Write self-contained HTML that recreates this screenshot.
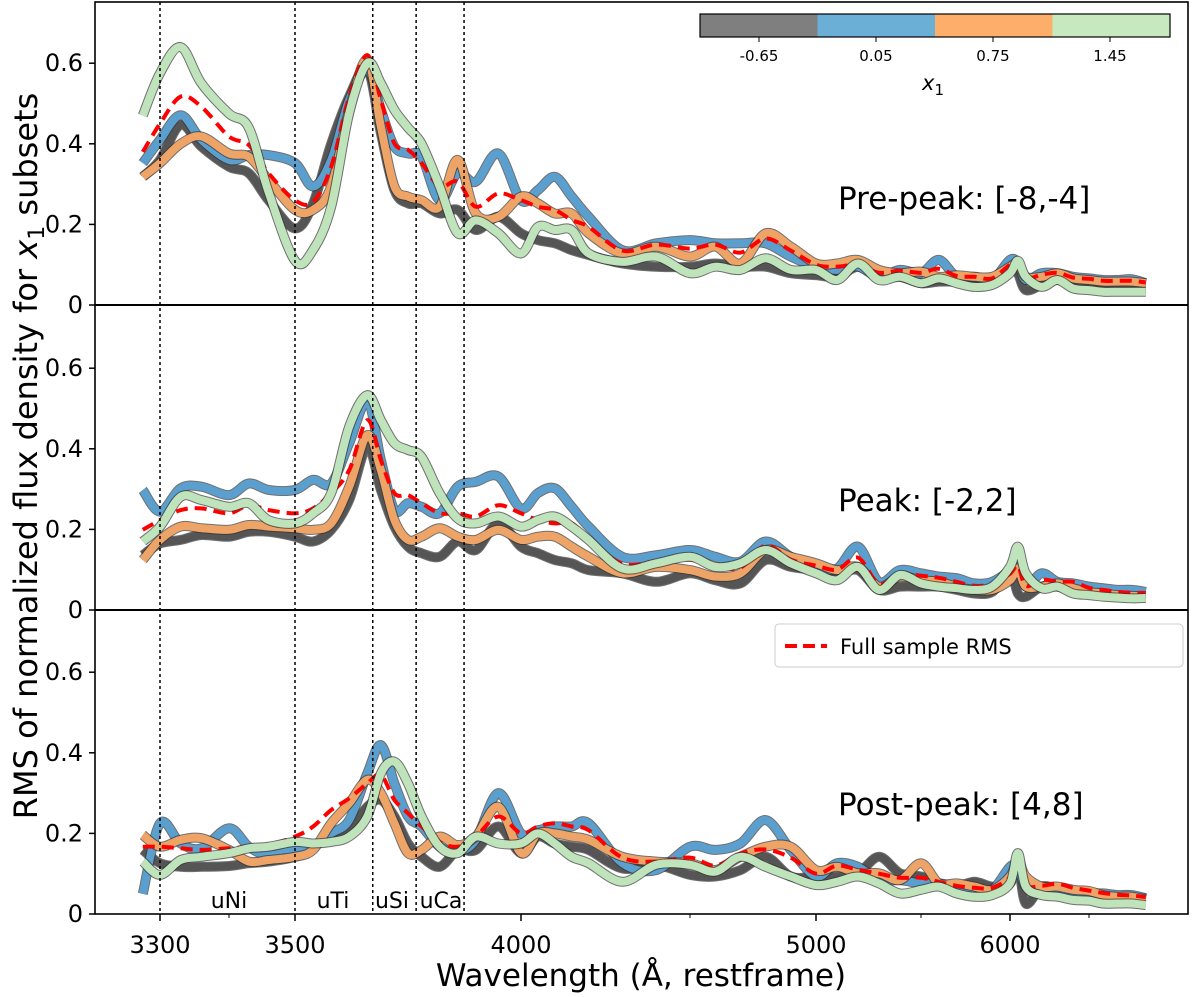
<!DOCTYPE html>
<html><head><meta charset="utf-8"><style>
html,body{margin:0;padding:0;background:#fff;}
svg{display:block;font-family:"DejaVu Sans","Liberation Sans",sans-serif;}
</style></head><body>
<svg id="chart" width="1200" height="997" viewBox="0 0 1200 997" xmlns="http://www.w3.org/2000/svg">
<g id="lines"></g>
<g id="axes"></g>
<g>
  <rect x="700" y="14" width="117.5" height="23" fill="#7f7f7f"/>
  <rect x="817.5" y="14" width="117.5" height="23" fill="#6baed6"/>
  <rect x="935" y="14" width="117.5" height="23" fill="#fdae6b"/>
  <rect x="1052.5" y="14" width="117.5" height="23" fill="#c7e9c0"/>
  <rect x="700" y="14" width="470" height="23" fill="none" stroke="#000" stroke-width="1.2"/>
  <g stroke="#000" stroke-width="1"><line x1="759" y1="37" x2="759" y2="42"/><line x1="876" y1="37" x2="876" y2="42"/><line x1="993" y1="37" x2="993" y2="42"/><line x1="1110" y1="37" x2="1110" y2="42"/></g>
  <g font-size="15" text-anchor="middle" fill="#000">
    <text x="759" y="61">-0.65</text>
    <text x="876" y="61">0.05</text>
    <text x="993" y="61">0.75</text>
    <text x="1110" y="61">1.45</text>
  </g>
  <text x="922" y="90" font-size="21" font-style="italic">x<tspan font-size="15" dy="5" font-style="normal">1</tspan></text>
</g>
<g>
  <rect x="775" y="624" width="408" height="43" rx="4" fill="#fff" stroke="#ccc" stroke-width="1"/>
  <line x1="785" y1="646" x2="827" y2="646" stroke="#ff0000" stroke-width="4" stroke-dasharray="12,6"/>
  <text x="840" y="654" font-size="21">Full sample RMS</text>
</g>
<g font-size="31" fill="#000">
  <text x="838" y="209">Pre-peak: [-8,-4]</text>
  <text x="838" y="511">Peak: [-2,2]</text>
  <text x="838" y="815">Post-peak: [4,8]</text>
</g>
<g font-size="22" text-anchor="middle" fill="#000">
  <text x="229" y="908">uNi</text>
  <text x="333" y="908">uTi</text>
  <text x="392" y="908">uSi</text>
  <text x="441" y="908">uCa</text>
</g>
<text x="641" y="986" font-size="31" text-anchor="middle">Wavelength (Å, restframe)</text>
<text transform="translate(37,456) rotate(-90)" font-size="32" text-anchor="middle">RMS of normalized flux density for <tspan font-style="italic">x</tspan><tspan font-size="22" dy="7">1</tspan><tspan dy="-7"> subsets</tspan></text>
</svg>
<script>
const grid = [3275,3300,3330,3360,3400,3430,3460,3500,3540,3580,3620,3660,3690,3720,3750,3780,3820,3860,3900,3950,4000,4050,4100,4150,4200,4300,4400,4500,4600,4700,4800,4900,5000,5100,5200,5300,5400,5500,5600,5700,5800,5900,6000,6050,6100,6200,6300,6400,6500,6600,6700,6800,6900];
const xTickValues = [3300,3500,4000,5000,6000];
const xTickLabels = ["3300","3500","4000","5000","6000"];
const xMinorTicks = [3400,4500,5500,6500];
const yTickValues = [0,0.2,0.4,0.6];
const yTickLabels = ["0","0.2","0.4","0.6"];
const lineMarkers = [3300,3500,3672,3768,3874];
const seriesNames = ["x1 -0.65","x1 0.05","x1 0.75","full sample","x1 1.45"];

const grey1 = [0.318,0.36,0.447,0.393,0.343,0.327,0.26,0.19,0.252,0.40,0.517,0.587,0.426,0.285,0.252,0.252,0.227,0.236,0.186,0.219,0.178,0.161,0.153,0.136,0.124,0.103,0.095,0.095,0.103,0.095,0.095,0.079,0.074,0.07,0.095,0.07,0.07,0.054,0.058,0.058,0.054,0.058,0.103,0.079,0.037,0.05,0.062,0.05,0.045,0.045,0.042,0.04,0.04];
const blue1 = [0.352,0.41,0.471,0.41,0.36,0.372,0.372,0.352,0.294,0.36,0.509,0.583,0.484,0.393,0.376,0.368,0.26,0.327,0.306,0.376,0.26,0.285,0.318,0.269,0.219,0.136,0.153,0.161,0.153,0.153,0.153,0.12,0.095,0.087,0.095,0.07,0.087,0.079,0.112,0.07,0.07,0.062,0.112,0.103,0.062,0.079,0.079,0.07,0.066,0.062,0.062,0.064,0.054];
const orange1 = [0.318,0.352,0.40,0.418,0.376,0.368,0.31,0.236,0.236,0.294,0.484,0.608,0.442,0.294,0.269,0.26,0.244,0.36,0.227,0.219,0.269,0.252,0.227,0.227,0.178,0.128,0.145,0.12,0.145,0.103,0.178,0.145,0.103,0.103,0.112,0.087,0.079,0.083,0.07,0.074,0.07,0.07,0.095,0.103,0.07,0.07,0.079,0.066,0.062,0.058,0.058,0.058,0.054];
const red1 = [0.38,0.45,0.517,0.492,0.418,0.397,0.327,0.26,0.256,0.343,0.517,0.62,0.509,0.401,0.385,0.352,0.294,0.306,0.244,0.277,0.26,0.244,0.236,0.211,0.194,0.135,0.15,0.14,0.15,0.13,0.165,0.135,0.1,0.095,0.1,0.08,0.085,0.08,0.09,0.072,0.07,0.066,0.1,0.1,0.066,0.075,0.08,0.068,0.065,0.06,0.06,0.06,0.056];
const green1 = [0.47,0.575,0.64,0.55,0.475,0.44,0.28,0.11,0.137,0.244,0.476,0.60,0.55,0.484,0.44,0.40,0.294,0.178,0.21,0.178,0.128,0.194,0.186,0.186,0.128,0.107,0.12,0.079,0.095,0.087,0.116,0.087,0.087,0.062,0.103,0.062,0.07,0.054,0.066,0.054,0.045,0.05,0.079,0.11,0.07,0.045,0.062,0.041,0.037,0.033,0.033,0.033,0.033];

const grey2 = [0.136,0.165,0.174,0.186,0.182,0.194,0.194,0.182,0.17,0.199,0.273,0.405,0.298,0.207,0.157,0.141,0.132,0.17,0.149,0.215,0.157,0.141,0.124,0.116,0.099,0.091,0.07,0.091,0.074,0.066,0.124,0.107,0.099,0.091,0.099,0.05,0.058,0.058,0.058,0.05,0.041,0.045,0.091,0.041,0.033,0.058,0.058,0.05,0.045,0.04,0.037,0.035,0.035];
const blue2 = [0.298,0.244,0.302,0.306,0.285,0.314,0.298,0.298,0.323,0.314,0.414,0.517,0.372,0.248,0.265,0.256,0.24,0.306,0.318,0.331,0.252,0.29,0.302,0.256,0.207,0.132,0.136,0.149,0.132,0.12,0.17,0.132,0.107,0.103,0.157,0.07,0.099,0.091,0.083,0.079,0.066,0.07,0.099,0.124,0.058,0.091,0.07,0.066,0.058,0.054,0.05,0.05,0.045];
const orange2 = [0.124,0.174,0.207,0.203,0.199,0.211,0.207,0.203,0.199,0.215,0.306,0.434,0.347,0.223,0.174,0.182,0.203,0.182,0.174,0.199,0.174,0.182,0.182,0.157,0.132,0.091,0.107,0.099,0.083,0.091,0.149,0.132,0.116,0.099,0.107,0.058,0.083,0.074,0.07,0.058,0.05,0.05,0.074,0.103,0.058,0.058,0.066,0.054,0.045,0.041,0.037,0.035,0.035];
const red2 = [0.199,0.223,0.248,0.252,0.24,0.26,0.248,0.24,0.252,0.29,0.347,0.471,0.372,0.29,0.285,0.265,0.24,0.24,0.232,0.26,0.24,0.223,0.215,0.215,0.174,0.115,0.12,0.125,0.11,0.105,0.16,0.125,0.11,0.1,0.13,0.065,0.09,0.085,0.08,0.07,0.06,0.065,0.09,0.11,0.06,0.075,0.07,0.07,0.055,0.05,0.045,0.043,0.042];
const green2 = [0.17,0.207,0.281,0.273,0.256,0.265,0.223,0.215,0.24,0.29,0.455,0.533,0.471,0.414,0.397,0.38,0.29,0.227,0.215,0.232,0.207,0.223,0.232,0.207,0.174,0.103,0.116,0.132,0.107,0.116,0.149,0.116,0.091,0.074,0.107,0.05,0.087,0.066,0.058,0.054,0.05,0.058,0.107,0.157,0.091,0.054,0.058,0.041,0.037,0.033,0.031,0.029,0.03];

const grey3 = [0.159,0.126,0.117,0.117,0.119,0.126,0.13,0.142,0.167,0.192,0.208,0.266,0.283,0.242,0.175,0.142,0.117,0.159,0.159,0.217,0.151,0.192,0.175,0.167,0.159,0.113,0.122,0.097,0.093,0.109,0.142,0.093,0.093,0.093,0.101,0.142,0.101,0.093,0.076,0.068,0.08,0.068,0.076,0.126,0.026,0.068,0.06,0.055,0.051,0.047,0.043,0.041,0.039];
const blue3 = [0.05,0.225,0.175,0.163,0.213,0.167,0.146,0.159,0.167,0.2,0.233,0.349,0.419,0.324,0.242,0.217,0.167,0.155,0.184,0.3,0.2,0.208,0.217,0.217,0.225,0.126,0.109,0.167,0.159,0.175,0.233,0.159,0.093,0.126,0.117,0.084,0.084,0.076,0.076,0.068,0.06,0.06,0.117,0.117,0.068,0.06,0.06,0.055,0.051,0.051,0.047,0.047,0.039];
const orange3 = [0.196,0.167,0.184,0.188,0.159,0.13,0.134,0.142,0.159,0.225,0.275,0.333,0.3,0.225,0.151,0.159,0.192,0.171,0.192,0.266,0.151,0.2,0.2,0.192,0.184,0.142,0.13,0.126,0.109,0.142,0.167,0.167,0.109,0.117,0.101,0.101,0.084,0.126,0.076,0.076,0.068,0.06,0.093,0.134,0.093,0.068,0.068,0.06,0.057,0.047,0.043,0.043,0.036];
const red3 = [0.167,0.167,0.163,0.159,0.163,0.167,0.171,0.192,0.217,0.258,0.287,0.324,0.345,0.283,0.25,0.217,0.179,0.167,0.192,0.242,0.2,0.217,0.225,0.217,0.208,0.14,0.13,0.14,0.12,0.15,0.16,0.14,0.1,0.12,0.11,0.1,0.09,0.09,0.08,0.07,0.065,0.065,0.09,0.12,0.07,0.07,0.075,0.065,0.058,0.052,0.048,0.046,0.042];
const green3 = [0.13,0.097,0.134,0.142,0.151,0.163,0.167,0.179,0.175,0.179,0.192,0.242,0.349,0.378,0.324,0.242,0.167,0.151,0.192,0.175,0.175,0.2,0.175,0.142,0.126,0.08,0.122,0.122,0.105,0.142,0.117,0.093,0.072,0.08,0.093,0.076,0.051,0.06,0.068,0.051,0.043,0.047,0.076,0.151,0.068,0.047,0.043,0.035,0.033,0.026,0.026,0.026,0.022];

// axis geometry (not data)
const L = 95, R = 1188, TOP = 2, BOT = 914;
const panelZero = [305, 610, 914];
const PX_PER_UNIT = 403;
const knotW = [3200,3300,3400,3500,4000,4500,5000,5500,6000,6500,7000];
const knotP = [91,160,229,295,521,690,816,921,1010,1089,1160];
function xScale(w){
  for(let i=0;i<knotW.length-1;i++){
    if(w<=knotW[i+1]||i===knotW.length-2){
      const t=(w-knotW[i])/(knotW[i+1]-knotW[i]);
      return knotP[i]+t*(knotP[i+1]-knotP[i]);
    }
  }
}
function yScale(v,p){ return panelZero[p]-v*PX_PER_UNIT; }
function smoothPath(pts){
  let d='M'+pts[0][0].toFixed(1)+','+pts[0][1].toFixed(1);
  for(let i=0;i<pts.length-1;i++){
    const p0=pts[i-1]||pts[i],p1=pts[i],p2=pts[i+1],p3=pts[i+2]||p2;
    const c1x=p1[0]+(p2[0]-p0[0])/6,c1y=p1[1]+(p2[1]-p0[1])/6;
    const c2x=p2[0]-(p3[0]-p1[0])/6,c2y=p2[1]-(p3[1]-p1[1])/6;
    d+=' C'+c1x.toFixed(1)+','+c1y.toFixed(1)+' '+c2x.toFixed(1)+','+c2y.toFixed(1)+' '+p2[0].toFixed(1)+','+p2[1].toFixed(1);
  }
  return d;
}
const NS='http://www.w3.org/2000/svg';
const linesG=document.getElementById('lines');
const axesG=document.getElementById('axes');
const panels=[[grey1,blue1,orange1,red1,green1],[grey2,blue2,orange2,red2,green2],[grey3,blue3,orange3,red3,green3]];
const colors=['#555555','#5b9fcf','#eea467','#ff0000','#bfe3ba'];
const seriesKeys=['gray','blue','orange','full-rms','green'];
panels.forEach((set,p)=>{
  set.forEach((vals,s)=>{
    const pts=grid.map((w,i)=>[xScale(w),yScale(vals[i],p)]);
    const d=smoothPath(pts);
    if(s!==3){
      const edge=document.createElementNS(NS,'path');
      edge.setAttribute('d',d);
      edge.setAttribute('fill','none');
      edge.setAttribute('stroke','#333');
      edge.setAttribute('stroke-opacity','0.7');
      edge.setAttribute('stroke-width','10');
      edge.setAttribute('stroke-linejoin','round');
      
      
      linesG.appendChild(edge);
    }
    const path=document.createElementNS(NS,'path');
    path.setAttribute('d',d);
    path.setAttribute('fill','none');
    path.setAttribute('stroke',colors[s]);
    path.setAttribute('stroke-linejoin','round');
    if(s===3){path.setAttribute('stroke-width','4');path.setAttribute('stroke-dasharray','12,7');}
    else path.setAttribute('stroke-width','8');
    
    
    linesG.appendChild(path);
  });
});
lineMarkers.forEach(w=>{
  const l=document.createElementNS(NS,'line');
  const x=xScale(w);
  l.setAttribute('x1',x);l.setAttribute('x2',x);l.setAttribute('y1',TOP);l.setAttribute('y2',BOT);
  l.setAttribute('stroke','#000');l.setAttribute('stroke-width','1.5');l.setAttribute('stroke-dasharray','3,3');
  
  
  axesG.appendChild(l);
});
const fr=document.createElementNS(NS,'rect');
fr.setAttribute('x',L);fr.setAttribute('y',TOP);fr.setAttribute('width',R-L);fr.setAttribute('height',BOT-TOP);
fr.setAttribute('fill','none');fr.setAttribute('stroke','#000');fr.setAttribute('stroke-width','1.6');


axesG.appendChild(fr);
[305,610].forEach(y=>{
  const l=document.createElementNS(NS,'line');
  l.setAttribute('x1',L);l.setAttribute('x2',R);l.setAttribute('y1',y);l.setAttribute('y2',y);
  l.setAttribute('stroke','#000');l.setAttribute('stroke-width','2');
  
  
  axesG.appendChild(l);
});
panels.forEach((_,p)=>{
  yTickValues.forEach((v,i)=>{
    const y=yScale(v,p);
    const t=document.createElementNS(NS,'line');
    t.setAttribute('x1',L-6);t.setAttribute('x2',L);t.setAttribute('y1',y);t.setAttribute('y2',y);
    t.setAttribute('stroke','#000');t.setAttribute('stroke-width','1.5');
    
    
    axesG.appendChild(t);
    const tx=document.createElementNS(NS,'text');
    tx.setAttribute('x',L-12);tx.setAttribute('y',y+8);tx.setAttribute('text-anchor','end');tx.setAttribute('font-size','24');
    tx.textContent=yTickLabels[i];
    
    
    axesG.appendChild(tx);
  });
});
xTickValues.forEach((w,i)=>{
  const x=xScale(w);
  const t=document.createElementNS(NS,'line');
  t.setAttribute('x1',x);t.setAttribute('x2',x);t.setAttribute('y1',BOT);t.setAttribute('y2',BOT+7);
  t.setAttribute('stroke','#000');t.setAttribute('stroke-width','1.5');
  
  
  axesG.appendChild(t);
  const tx=document.createElementNS(NS,'text');
  tx.setAttribute('x',x);tx.setAttribute('y',BOT+39);tx.setAttribute('text-anchor','middle');tx.setAttribute('font-size','24');
  tx.textContent=xTickLabels[i];
  
  
  axesG.appendChild(tx);
});
xMinorTicks.forEach(w=>{
  const x=xScale(w);
  const t=document.createElementNS(NS,'line');
  t.setAttribute('x1',x);t.setAttribute('x2',x);t.setAttribute('y1',BOT);t.setAttribute('y2',BOT+4);
  t.setAttribute('stroke','#000');t.setAttribute('stroke-width','1');
  
  
  axesG.appendChild(t);
});
</script>
</body></html>
